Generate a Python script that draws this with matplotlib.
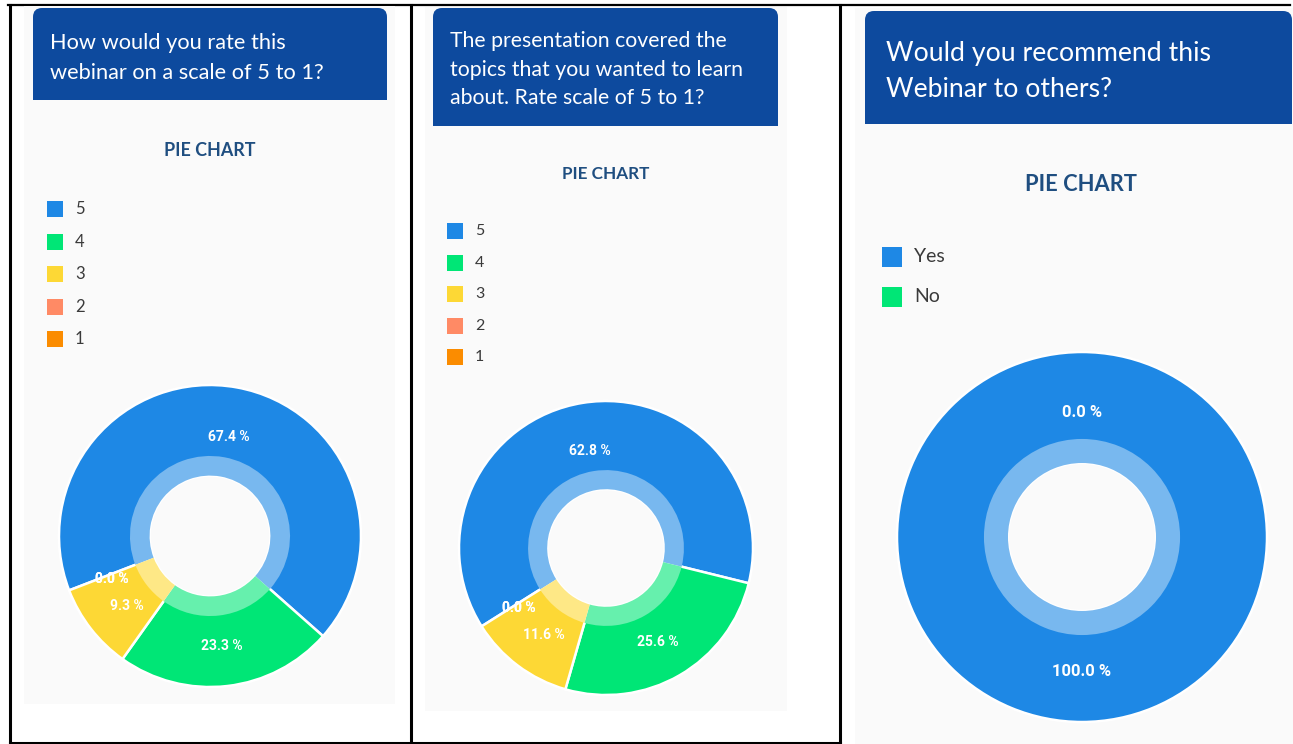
import matplotlib
matplotlib.use("Agg")
import matplotlib.pyplot as plt
from matplotlib.patches import FancyBboxPatch, Rectangle
from matplotlib.transforms import offset_copy
import matplotlib.colors as mcolors
import numpy as np

# ---------------- data ----------------
q1_title = ["How would you rate this", "webinar on a scale of 5 to 1?"]
q2_title = ["The presentation covered the", "topics that you wanted to learn",
            "about. Rate scale of 5 to 1?"]
q3_title = ["Would you recommend this", "Webinar to others?"]
chart_title = "PIE CHART"
rating_labels = ["5", "4", "3", "2", "1"]
q1_values = [67.4, 23.3, 9.3, 0.0, 0.0]
q2_values = [62.8, 25.6, 11.6, 0.0, 0.0]
recommend_labels = ["Yes", "No"]
q3_values = [100.0, 0.0]
rating_colors = ["#1E88E5", "#00E676", "#FDD835", "#FF8A65", "#FB8C00"]
recommend_colors = ["#1E88E5", "#00E676"]

# ---------------- figure ----------------
W, H, DPI = 1293, 744, 100
fig = plt.figure(figsize=(W / DPI, H / DPI), dpi=DPI, facecolor="white")
bg = fig.add_axes([0, 0, 1, 1])
bg.set_xlim(0, W)
bg.set_ylim(H, 0)
bg.axis("off")

HEADER_BLUE = "#0D4A9E"
TITLE_BLUE = "#1F4E80"
SCREEN_BG = "#FAFAFA"
renderer = fig.canvas.get_renderer()


def fit_text(x, y, s, width_px, size0=14, **kw):
    t = bg.text(x, y, s, fontsize=size0, **kw)
    w = t.get_window_extent(renderer).width
    t.set_fontsize(size0 * width_px / w)
    return t


def lighten(c, f=0.40):
    r, g, b = mcolors.to_rgb(c)
    return (r + (1 - r) * f, g + (1 - g) * f, b + (1 - b) * f)


# table lines
lw = 2.2
bg.plot([8, 1290], [5, 5], color="black", lw=1.6, zorder=1)
for x in [10, 411, 840]:
    bg.plot([x, x], [5, 743], color="black", lw=lw, zorder=1)
bg.plot([10, 840], [743, 743], color="black", lw=lw, zorder=1)

panels = [
    dict(screen=(24, 6, 395, 704), header=(33, 8, 387, 100),
         title=q1_title, tx=50, tbase=[49, 79], twidth=237, tline=0,
         pc=(210, 156, 92),
         leg_x=47, leg_sq=16, leg_y=[209, 242, 274, 307, 339], leg_fs=12,
         labels=rating_labels, values=q1_values, colors=rating_colors,
         center=(210, 536), R=151, start=201.1, pct_fs=10),
    dict(screen=(425, 7, 787, 711), header=(433, 8, 778, 126),
         title=q2_title, tx=450, tbase=[47, 76, 104], twidth=293, tline=1,
         pc=(606, 179, 88),
         leg_x=447, leg_sq=16, leg_y=[231, 263, 294, 326, 357], leg_fs=11.5,
         labels=rating_labels, values=q2_values, colors=rating_colors,
         center=(606, 548), R=147, start=212.2, pct_fs=10),
    dict(screen=(855, 8, 1293, 744), header=(865, 11, 1292, 124),
         title=q3_title, tx=886, tbase=[61, 97], twidth=325, tline=0,
         pc=(1081, 191, 112),
         leg_x=882, leg_sq=20, leg_y=[257, 297], leg_fs=14,
         labels=recommend_labels, values=q3_values, colors=recommend_colors,
         center=(1082, 537), R=185, start=90, pct_fs=12),
]

for p in panels:
    x0, y0, x1, y1 = p["screen"]
    bg.add_patch(Rectangle((x0, y0), x1 - x0, y1 - y0, facecolor=SCREEN_BG,
                           edgecolor="none", zorder=2))
    hx0, hy0, hx1, hy1 = p["header"]
    bg.add_patch(FancyBboxPatch((hx0, hy0), hx1 - hx0, hy1 - hy0,
                                boxstyle="round,pad=0,rounding_size=9",
                                facecolor=HEADER_BLUE, edgecolor="none", zorder=3))
    bg.add_patch(Rectangle((hx0, (hy0 + hy1) / 2), hx1 - hx0, (hy1 - hy0) / 2,
                           facecolor=HEADER_BLUE, edgecolor="none", zorder=3))
    # header text
    ref = p["title"][p["tline"]]
    t = fit_text(p["tx"], p["tbase"][p["tline"]], ref, p["twidth"],
                 family="Lato", color="white", va="baseline", ha="left", zorder=4)
    fs = t.get_fontsize()
    for i, line in enumerate(p["title"]):
        if i == p["tline"]:
            continue
        bg.text(p["tx"], p["tbase"][i], line, fontsize=fs, family="Lato",
                color="white", va="baseline", ha="left", zorder=4)
    # chart title
    cx, cy, cw = p["pc"]
    fit_text(cx, cy, chart_title, cw, family="Lato", fontweight="bold",
             color=TITLE_BLUE, ha="center", va="baseline", zorder=4)
    # legend
    sq = p["leg_sq"]
    for lab, col, ly in zip(p["labels"], p["colors"], p["leg_y"]):
        bg.add_patch(Rectangle((p["leg_x"], ly - sq / 2), sq, sq, facecolor=col,
                               edgecolor="none", zorder=4))
        bg.text(p["leg_x"] + sq + 12, ly, lab, fontsize=p["leg_fs"], family="Lato",
                color="#3a3a3a", va="center", ha="left", zorder=4)

    # donut
    (dx, dy), R = p["center"], p["R"]
    ax = fig.add_axes([(dx - R) / W, 1 - (dy + R) / H, 2 * R / W, 2 * R / H])
    ax.patch.set_alpha(0)
    hole, ring = 0.40, 0.53
    wedges, texts, autotexts = ax.pie(
        p["values"], radius=1.0, startangle=p["start"], counterclock=False,
        colors=p["colors"],
        wedgeprops=dict(width=1 - hole, edgecolor="white", linewidth=1.8),
        autopct=lambda v: f"{v:.1f} %", pctdistance=0.70,
        textprops=dict(color="white", fontsize=p["pct_fs"], fontweight="bold",
                       family="Roboto"))
    for w, v in zip(wedges, p["values"]):
        if v == 0:
            w.set_linewidth(0)
    ax.pie(p["values"], radius=ring, startangle=p["start"], counterclock=False,
           colors=[lighten(c) for c in p["colors"]],
           wedgeprops=dict(width=ring - hole, linewidth=0))
    ax.set_xlim(-1, 1)
    ax.set_ylim(-1, 1)
    ax.set_aspect("equal")
    ax.axis("off")
    shifted = offset_copy(ax.transData, fig=fig, x=0, y=-5, units="dots")
    for at in autotexts:
        at.set_zorder(5)
        at.set_transform(shifted)

fig.savefig("out.png", dpi=DPI, facecolor="white")
